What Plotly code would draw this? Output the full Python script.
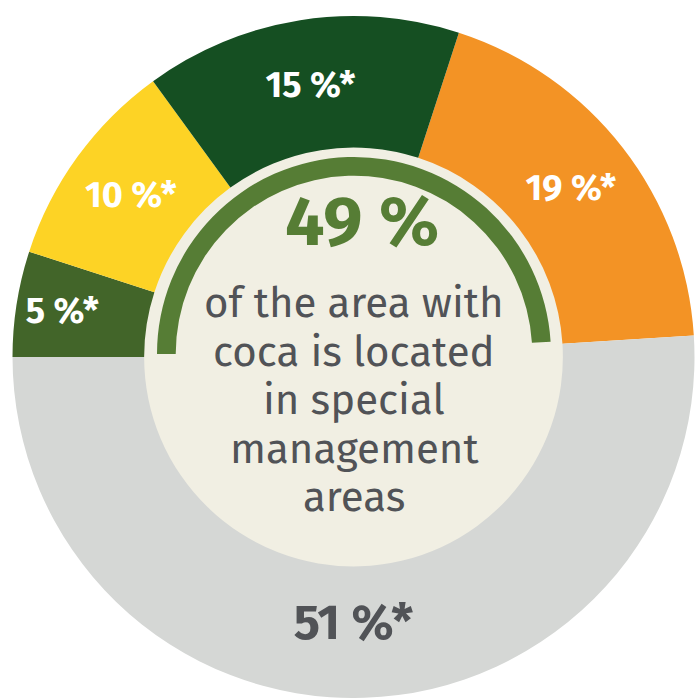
import plotly.graph_objects as go

# ---------------- data ----------------
categories = ["Special area A", "Outside special management areas",
              "Special area B", "Special area C", "Special area D"]
shares = [19, 51, 5, 10, 15]
share_labels = ["19 %*", "51 %*", "5 %*", "10 %*", "15 %*"]
inside_share = 49          # % of coca area inside special management areas
arc_values = [inside_share, 100 - inside_share]
headline = "49 %"
subtitle_lines = ["of the area with", "coca is located", "in special",
                  "management", "areas"]

# ---------------- styling ----------------
W, H = 696, 698
slice_colors = ["#F39325", "#D5D7D5", "#426529", "#FDD325", "#154F22"]
label_colors = ["#FFFFFF", "#515357", "#FFFFFF", "#FFFFFF", "#FFFFFF"]
label_sizes = [36, 49, 36, 36, 36]
cream = "#F1EFE3"
arc_green = "#567D35"
text_gray = "#515357"
FONT = "Fira Sans, Open Sans, sans-serif"


def dom(cx, cy, r):
    return dict(x=[(cx - r) / W, (cx + r) / W],
                y=[max(0, 1 - (cy + r) / H), min(1, 1 - (cy - r) / H)])


fig = go.Figure()

# donut
fig.add_trace(go.Pie(
    labels=categories, values=shares, sort=False, direction="clockwise",
    rotation=18, hole=0.614,
    marker=dict(colors=slice_colors, line=dict(width=0)),
    text=share_labels, textinfo="text", textposition="inside",
    insidetextorientation="horizontal",
    textfont=dict(family=FONT, size=label_sizes, color=label_colors,
                  weight="bold"),
    domain=dict(x=[12 / W, 695 / W], y=[0, 1 - 16 / H]),
    hoverinfo="skip", showlegend=False,
))

# 49 % arc
fig.add_trace(go.Pie(
    labels=["inside", "outside"], values=arc_values, sort=False,
    direction="clockwise", rotation=-90, hole=0.905,
    marker=dict(colors=[arc_green, "rgba(0,0,0,0)"], line=dict(width=0)),
    textinfo="none", domain=dom(354, 354, 197),
    hoverinfo="skip", showlegend=False,
))

# cream centre disc
cx, cy, rc = 353, 358, 212
fig.add_shape(type="circle", xref="paper", yref="paper", layer="below",
              x0=(cx - rc) / W, x1=(cx + rc) / W,
              y0=1 - (cy + rc) / H, y1=1 - (cy - rc) / H,
              fillcolor=cream, line=dict(width=0))

fig.add_annotation(text=headline, xref="paper", yref="paper",
                   x=362 / W, y=1 - 222 / H, xanchor="center",
                   yanchor="middle", showarrow=False,
                   font=dict(family=FONT, size=70, color=arc_green,
                             weight="bold"))
line_step = 48.5
for i, line in enumerate(subtitle_lines):
    fig.add_annotation(text=line, xref="paper", yref="paper",
                       x=354 / W, y=1 - (303 + i * line_step) / H,
                       xanchor="center", yanchor="middle", showarrow=False,
                       font=dict(family=FONT, size=42, color=text_gray))

fig.update_layout(width=W, height=H, margin=dict(l=0, r=0, t=0, b=0),
                  paper_bgcolor="white", plot_bgcolor="white")

fig.write_html("out.html", config={"displayModeBar": False},
               post_script="document.body.style.margin='0';")
